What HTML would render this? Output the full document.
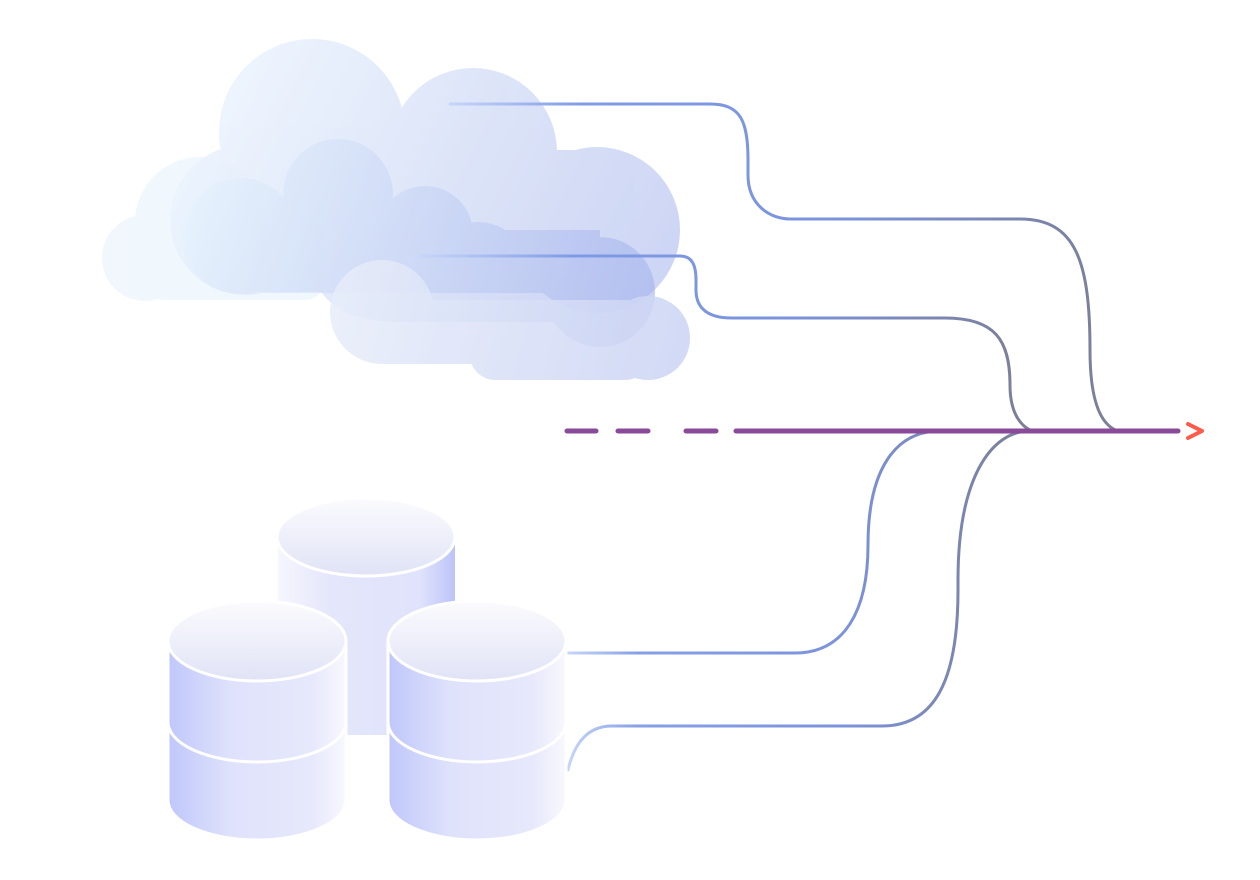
<!DOCTYPE html>
<html><head><meta charset="utf-8"><style>html,body{margin:0;background:#fff}svg{display:block}</style></head><body>
<svg width="1260" height="880" viewBox="0 0 1260 880" xmlns="http://www.w3.org/2000/svg">
<defs>
<linearGradient id="cg" gradientUnits="userSpaceOnUse" x1="200" y1="60" x2="680" y2="300"><stop offset="0" stop-color="#eef6fe"/><stop offset="1" stop-color="#c6cff3"/></linearGradient>
<linearGradient id="cg2" gradientUnits="userSpaceOnUse" x1="180" y1="180" x2="650" y2="320"><stop offset="0" stop-color="#e6f4fd"/><stop offset="1" stop-color="#a3b1ed"/></linearGradient>
<linearGradient id="cg3" gradientUnits="userSpaceOnUse" x1="330" y1="280" x2="700" y2="380"><stop offset="0" stop-color="#e8eefa"/><stop offset="1" stop-color="#c9d2f4"/></linearGradient>
<linearGradient id="body" x1="0" y1="0" x2="1" y2="0"><stop offset="0" stop-color="#bfc7fb"/><stop offset="0.35" stop-color="#dfe2fb"/><stop offset="0.8" stop-color="#e6e8fb"/><stop offset="1" stop-color="#f8f8fe"/></linearGradient>
<linearGradient id="bodyR" x1="0" y1="0" x2="1" y2="0"><stop offset="0" stop-color="#f6f6fe"/><stop offset="0.3" stop-color="#e4e6fb"/><stop offset="0.8" stop-color="#e0e3fb"/><stop offset="1" stop-color="#bcc4f8"/></linearGradient>
<linearGradient id="top" x1="0" y1="0" x2="0" y2="1"><stop offset="0" stop-color="#fbfbfe"/><stop offset="1" stop-color="#e0e3f6"/></linearGradient>
<linearGradient id="l1" gradientUnits="userSpaceOnUse" x1="450" y1="0" x2="1118" y2="0"><stop offset="0" stop-color="#c6d6f8"/><stop offset="0.2" stop-color="#7f9be6"/><stop offset="0.6" stop-color="#7b92dc"/><stop offset="1" stop-color="#7b7f95"/></linearGradient>
<linearGradient id="l2" gradientUnits="userSpaceOnUse" x1="420" y1="0" x2="1032" y2="0"><stop offset="0" stop-color="#c6d6f8"/><stop offset="0.25" stop-color="#7f9be6"/><stop offset="0.6" stop-color="#7b92dc"/><stop offset="1" stop-color="#7b7f95"/></linearGradient>
<linearGradient id="l3" gradientUnits="userSpaceOnUse" x1="568" y1="0" x2="1030" y2="0"><stop offset="0" stop-color="#c6d6f8"/><stop offset="0.15" stop-color="#86a0e8"/><stop offset="0.6" stop-color="#7b92dc"/><stop offset="1" stop-color="#7b7f95"/></linearGradient>
</defs>
<g fill="#eef6fd" opacity="0.85">
<circle cx="200" cy="222" r="65"/><circle cx="145" cy="258" r="43"/><rect x="145" y="215" width="180" height="85" rx="20"/>
</g>
<g fill="url(#cg)" opacity="0.9">
<circle cx="312" cy="132" r="93"/><circle cx="473" cy="152" r="84"/><circle cx="597" cy="230" r="83"/><circle cx="245" cy="220" r="75"/>
<rect x="240" y="150" width="360" height="143"/>
</g>
<g fill="url(#cg2)" opacity="0.6">
<circle cx="338" cy="194" r="55"/><circle cx="425" cy="234" r="48"/><circle cx="478" cy="272" r="50"/><circle cx="600" cy="292" r="55"/><circle cx="240" cy="236" r="58"/>
<rect x="240" y="220" width="200" height="72"/>
<path d="M290 230 H600 V322 H400 Q340 322 320 290 Z"/>
</g>
<g fill="url(#cg3)" opacity="0.85">
<circle cx="382" cy="312" r="52"/><circle cx="648" cy="338" r="42"/><rect x="382" y="300" width="270" height="64"/><rect x="470" y="330" width="180" height="50" rx="25"/>
</g>
<g fill="none" stroke-width="3" stroke-linecap="round">
<path stroke="url(#l1)" d="M450 104 H710 C740 104 748 120 748 160 V175 C748 205 770 219 790 219 H1020 C1075 219 1090 260 1090 350 C1090 400 1100 425 1118 431"/>
<path stroke="url(#l2)" d="M420 256 H680 C692 256 696 265 696 280 V290 C696 310 710 318 732 318 H945 C995 318 1010 340 1010 385 C1010 412 1020 426 1032 431"/>
<path stroke="url(#l3)" d="M568 653 H795 C845 653 868 610 868 545 C868 470 895 431 940 431"/>
<path stroke="url(#l3)" d="M568 770 C575 740 590 726 612 726 H882 C935 726 958 680 958 590 V580 C958 480 990 431 1030 431"/>
</g>
<g stroke="#8a4a9a" stroke-width="5" stroke-linecap="round" fill="none">
<path d="M567 431H596M618 431H648M686 431H716M736 431H1178"/>
</g>
<path d="M1188 424 L1202 431 L1188 438" fill="none" stroke="#ff5a4a" stroke-width="4" stroke-linecap="round" stroke-linejoin="round"/>
<g stroke="#fff" stroke-width="3">
<path d="M278 537 V735 H455 V537 Z" fill="url(#bodyR)" stroke="none"/>
<ellipse cx="366" cy="537" rx="89" ry="39" fill="url(#top)"/>
<path d="M168 641 V800 A89 40 0 0 0 346 800 V641 Z" fill="url(#body)"/>
<path d="M168 722 A89 40 0 0 0 346 722" fill="none"/>
<ellipse cx="257" cy="641" rx="89" ry="40" fill="url(#top)"/>
<path d="M388 641 V800 A89 40 0 0 0 566 800 V641 Z" fill="url(#body)"/>
<path d="M388 722 A89 40 0 0 0 566 722" fill="none"/>
<ellipse cx="477" cy="641" rx="89" ry="40" fill="url(#top)"/>
</g>
</svg>
</body></html>
